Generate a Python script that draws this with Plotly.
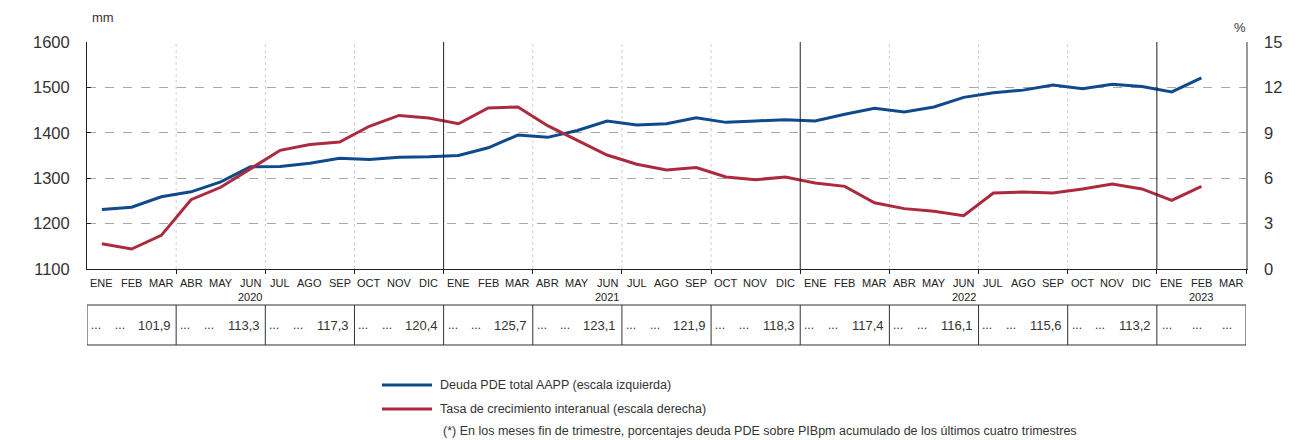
import plotly.graph_objects as go

# ---------------- data ----------------
months = ["ENE", "FEB", "MAR", "ABR", "MAY", "JUN", "JUL", "AGO", "SEP", "OCT", "NOV", "DIC"] * 3 + ["ENE", "FEB", "MAR"]
years = ["2020", "2021", "2022", "2023"]
year_label_month = [5, 17, 29, 37]  # month index under which each year label sits

deuda_pde = [1231, 1236, 1259, 1270, 1292, 1325, 1326, 1333, 1344, 1341, 1346, 1347,
             1350, 1367, 1395, 1390, 1405, 1426, 1417, 1420, 1433, 1423, 1426, 1429,
             1426, 1441, 1454, 1446, 1457, 1478, 1488, 1494, 1505, 1497, 1507, 1502,
             1490, 1521, None]
tasa = [1.67, 1.32, 2.22, 4.58, 5.40, 6.60, 7.84, 8.22, 8.39, 9.43, 10.15, 9.98,
        9.60, 10.64, 10.70, 9.47, 8.48, 7.53, 6.92, 6.54, 6.70, 6.08, 5.90, 6.08,
        5.68, 5.46, 4.38, 3.99, 3.81, 3.52, 5.02, 5.09, 5.02, 5.29, 5.62, 5.29,
        4.54, 5.46, None]
pct_pib = ["101,9", "113,3", "117,3", "120,4", "125,7", "123,1", "121,9",
           "118,3", "117,4", "116,1", "115,6", "113,2", None]

left_ticks = [1100, 1200, 1300, 1400, 1500, 1600]
right_ticks = [0, 3, 6, 9, 12, 15]

BLUE = "#0f4a8c"
RED = "#ad2a3e"
TXT = "#333333"
FONT = "Liberation Sans, Arial, sans-serif"

n = len(months)
x = list(range(n))

fig = go.Figure()
fig.add_trace(go.Scatter(x=x, y=deuda_pde, mode="lines", line=dict(color=BLUE, width=3),
                         name="Deuda PDE total AAPP (escala izquierda)", showlegend=False))
fig.add_trace(go.Scatter(x=x, y=tasa, mode="lines", line=dict(color=RED, width=3),
                         name="Tasa de crecimiento interanual (escala derecha)", yaxis="y2",
                         showlegend=False))

quarter_bounds = [3 * q - 0.5 for q in range(1, 13)]
year_bounds = [11.5, 23.5, 35.5]
grid_bounds = [b for b in quarter_bounds if b not in year_bounds]

shapes = []
# quarter gridlines (dotted, light)
for b in grid_bounds:
    shapes.append(dict(type="line", xref="x", yref="paper", x0=b, x1=b, y0=0, y1=1,
                       line=dict(color="#cfcfcf", width=1, dash="dot"), layer="below"))
# year dividers
for b in year_bounds:
    shapes.append(dict(type="line", xref="x", yref="paper", x0=b, x1=b, y0=0, y1=1,
                       line=dict(color="#222222", width=1), layer="above"))

# table
t_top, t_bot = -0.1586, -0.3348
shapes.append(dict(type="rect", xref="x", yref="paper", x0=-0.5, x1=n - 0.5, y0=t_bot, y1=t_top,
                   line=dict(color="#333333", width=1)))
for b in quarter_bounds:
    shapes.append(dict(type="line", xref="x", yref="paper", x0=b, x1=b, y0=t_bot, y1=t_top,
                       line=dict(color="#333333", width=1)))

annotations = []
# month labels
for i, m in enumerate(months):
    annotations.append(dict(x=i, y=-0.062, xref="x", yref="paper", text=m, showarrow=False,
                            font=dict(family=FONT, size=11, color="#222222"),
                            xanchor="center", yanchor="middle"))
for yl, mi in zip(years, year_label_month):
    annotations.append(dict(x=mi, y=-0.124, xref="x", yref="paper", text=yl, showarrow=False,
                            font=dict(family=FONT, size=11, color="#222222"),
                            xanchor="center", yanchor="middle"))
# table contents
t_mid = -0.247
for q, val in enumerate(pct_pib):
    start = 3 * q - 0.5
    if val is not None:
        for off in (0.3, 1.1):
            annotations.append(dict(x=start + off, y=t_mid, xref="x", yref="paper", text="...",
                                    showarrow=False, font=dict(family=FONT, size=12, color=TXT),
                                    xanchor="center", yanchor="middle"))
        annotations.append(dict(x=start + 2.88, y=t_mid, xref="x", yref="paper", text=val,
                                showarrow=False, font=dict(family=FONT, size=13, color=TXT),
                                xanchor="right", yanchor="middle"))
    else:
        for k in range(3):
            annotations.append(dict(x=3 * q + k - 0.15, y=t_mid, xref="x", yref="paper", text="...",
                                    showarrow=False, font=dict(family=FONT, size=12, color=TXT),
                                    xanchor="center", yanchor="middle"))
annotations.append(dict(x=-0.64, y=-0.198, xref="x", yref="paper", text="Deuda PDE",
                        showarrow=False, font=dict(family=FONT, size=12.5, color=TXT),
                        xanchor="right", yanchor="middle"))
annotations.append(dict(x=-0.64, y=-0.295, xref="x", yref="paper", text="en % PIB (*)",
                        showarrow=False, font=dict(family=FONT, size=12.5, color=TXT),
                        xanchor="right", yanchor="middle"))

# axis units
annotations.append(dict(x=0.0138, y=1.106, xref="paper", yref="paper", text="mm", showarrow=False,
                        font=dict(family=FONT, size=13, color=TXT), xanchor="center", yanchor="middle"))
annotations.append(dict(x=0.9945, y=1.062, xref="paper", yref="paper", text="%", showarrow=False,
                        font=dict(family=FONT, size=13, color=TXT), xanchor="center", yanchor="middle"))

# manual legend
leg_x0, leg_x1, leg_tx = 0.2545, 0.2977, 0.3029
for yy, col, trace in ((-0.511, BLUE, fig.data[0]), (-0.6167, RED, fig.data[1])):
    shapes.append(dict(type="line", xref="paper", yref="paper", x0=leg_x0, x1=leg_x1, y0=yy, y1=yy,
                       line=dict(color=col, width=3)))
    annotations.append(dict(x=leg_tx, y=yy, xref="paper", yref="paper", text=trace.name,
                            showarrow=False, font=dict(family=FONT, size=12.5, color=TXT),
                            xanchor="left", yanchor="middle"))
annotations.append(dict(x=0.3055, y=-0.714, xref="paper", yref="paper",
                        text="(*) En los meses fin de trimestre, porcentajes deuda PDE sobre PIBpm acumulado de los últimos cuatro trimestres",
                        showarrow=False, font=dict(family=FONT, size=12.5, color=TXT),
                        xanchor="left", yanchor="middle"))

# the page body adds an 8px offset, so the figure is 8px smaller and margins shifted
fig.update_layout(
    width=1287, height=432,
    margin=dict(l=79, r=49, t=34, b=171),
    paper_bgcolor="white", plot_bgcolor="white",
    font=dict(family=FONT, color=TXT),
    shapes=shapes, annotations=annotations,
    xaxis=dict(range=[-0.5, n - 0.5], tickvals=quarter_bounds + [n - 0.5], showticklabels=False,
               ticks="outside", ticklen=4, tickcolor="#222222",
               showgrid=False, zeroline=False, showline=True, linecolor="#222222", linewidth=1),
    yaxis=dict(range=[1100, 1600], tickvals=left_ticks, ticks="inside", ticklen=4,
               tickcolor="#222222", showline=True, linecolor="#222222", linewidth=1,
               showgrid=True, gridcolor="#a8a8a8", griddash="dash", gridwidth=1,
               zeroline=False, tickfont=dict(family=FONT, size=16.5, color=TXT),
               ticklabelstandoff=13, automargin=False),
    yaxis2=dict(range=[0, 15], tickvals=right_ticks, overlaying="y", side="right",
                ticks="inside", ticklen=4, tickcolor="#999999", showline=True,
                linecolor="#999999", linewidth=1.5, showgrid=False, zeroline=False,
                tickfont=dict(family=FONT, size=16.5, color=TXT), ticklabelstandoff=13,
                automargin=False),
)

fig.write_html("out.html")
